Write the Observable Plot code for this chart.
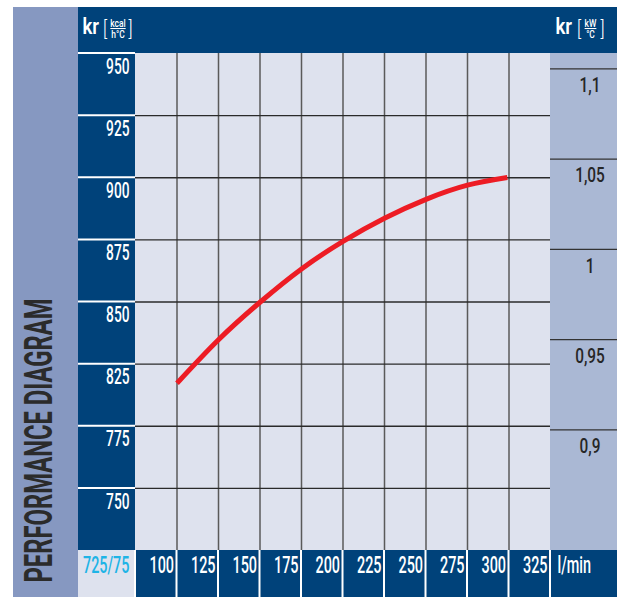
<!DOCTYPE html>
<html>
<head>
<meta charset="utf-8">
<script src="https://cdn.jsdelivr.net/npm/d3@7"></script>
<script src="https://cdn.jsdelivr.net/npm/@observablehq/plot@0.6"></script>
<style>
  html, body { margin: 0; padding: 0; background: #ffffff; }
  #chart { position: absolute; left: 13px; top: 7px; }
  text[aria-label="unit-numerator"] { text-decoration: underline; }
</style>
</head>
<body>
<div id="chart"></div>
<script>
// ---- data ----
const flow = [100, 125, 150, 175, 200, 225, 250, 275, 299];          // l/min
const kcal = [817.3, 834.8, 849.9, 863.3, 874.4, 883.7, 891.3, 897.0, 900.1];

const xTicks = [75, 100, 125, 150, 175, 200, 225, 250, 275, 300, 325];
const xLabels = ["100", "125", "150", "175", "200", "225", "250", "275", "300", "325"];
const xGrid = [100, 125, 150, 175, 200, 225, 250, 275, 300];

const yTicks = [950, 925, 900, 875, 850, 825, 800, 775];
const yLabels = ["950", "925", "900", "875", "850", "825", "775", "750"];
const yGrid = [925, 900, 875, 850, 825, 800, 775];

const kwTicks = [1.1, 1.05, 1, 0.95, 0.9];
const kwLabels = ["1,1", "1,05", "1", "0,95", "0,9"];
const kwRef = [0.9, 1.1];          // kW/°C
const kcalRef = [798.3, 943.6];    // matching positions on the kcal axis

const cornerLabel = "725/75";
const unitX = "l/min";
const title = "PERFORMANCE DIAGRAM";

// ---- styling ----
const C = {
  band: "#8698c1", dark: "#00427a", plot: "#dee2ee", right: "#aab8d4",
  cyan: "#1eb4e6", red: "#ed1c24", text: "#262626"
};
const W = 604, H = 590;
const M = {top: 46, right: 67, bottom: 47, left: 122};
const bandW = 65;

const kw2kcal = d3.scaleLinear().domain(kwRef).range(kcalRef);
const curve = flow.map((f, i) => ({flow: f, kcal: kcal[i]}));
const tag = name => () => name;

function panels(index, scales, values, dims) {
  const {width, height, marginTop, marginRight, marginBottom, marginLeft} = dims;
  const g = d3.create("svg:g");
  const rect = (x, y, w, h, fill) => g.append("rect").attr("x", x).attr("y", y).attr("width", w).attr("height", h).attr("fill", fill);
  const innerH = height - marginTop - marginBottom;
  rect(0, 0, bandW, height, C.band);
  rect(bandW, 0, width - bandW, height, C.dark);
  rect(marginLeft, marginTop, width - marginLeft - marginRight, innerH, C.plot);
  rect(width - marginRight, marginTop, marginRight, innerH, C.right);
  rect(bandW, height - marginBottom, marginLeft - bandW, marginBottom, C.plot);
  for (const v of yTicks) {
    const y = scales.y(v);
    g.append("line").attr("x1", bandW).attr("x2", marginLeft).attr("y1", y).attr("y2", y)
      .attr("stroke", "#ffffff").attr("stroke-width", 2);
  }
  for (const v of xTicks) {
    const x = scales.x(v);
    g.append("line").attr("x1", x).attr("x2", x).attr("y1", height - marginBottom).attr("y2", height)
      .attr("stroke", "#ffffff").attr("stroke-width", 2);
  }
  for (const k of kwTicks) {
    const y = scales.y(kw2kcal(k));
    g.append("line").attr("x1", width - marginRight).attr("x2", width).attr("y1", y).attr("y2", y)
      .attr("stroke", "#333333").attr("stroke-width", 1.3);
  }
  return g.node();
}

const chart = Plot.plot({
  width: W, height: H,
  marginTop: M.top, marginRight: M.right, marginBottom: M.bottom, marginLeft: M.left,
  x: {domain: [75, 325], axis: null},
  y: {domain: [750, 950], axis: null},
  style: {fontFamily: "Roboto, 'Liberation Sans', sans-serif", background: "transparent", overflow: "visible"},
  marks: [
    panels,
    Plot.ruleX(xGrid, {x: d => d, stroke: "#5a5a5a", strokeWidth: 1.5}),
    Plot.ruleY(yGrid, {y: d => d, stroke: "#2a2a2a", strokeWidth: 1.3}),
    Plot.line(curve, {x: "flow", y: "kcal", stroke: C.red, strokeWidth: 5, curve: "natural", strokeLinecap: "butt"}),
    // left axis labels
    Plot.text(yTicks, {y: d => d, text: (d, i) => yLabels[i], frameAnchor: "left", dx: -6, dy: 13,
      textAnchor: "end", lineAnchor: "middle", fill: "#ffffff", fontSize: 22.5, fontWeight: 500, ariaLabel: tag("left-axis")}),
    // bottom axis labels
    Plot.text(xTicks.slice(1), {x: d => d, text: (d, i) => xLabels[i], frameAnchor: "bottom", dx: -3, dy: 14.5,
      textAnchor: "end", lineAnchor: "middle", fill: "#ffffff", fontSize: 24, fontWeight: 500, ariaLabel: tag("bottom-axis")}),
    Plot.text([cornerLabel], {frameAnchor: "bottom-left", dx: -6, dy: 14.5, textAnchor: "end", lineAnchor: "middle",
      fill: C.cyan, fontSize: 24, fontWeight: 500, ariaLabel: tag("bottom-axis")}),
    Plot.text([unitX], {frameAnchor: "bottom-right", dx: 7, dy: 14.5, textAnchor: "start", lineAnchor: "middle",
      fill: "#ffffff", fontSize: 24, fontWeight: 500, ariaLabel: tag("bottom-axis")}),
    // right axis labels
    Plot.text(kwTicks, {y: d => kw2kcal(d), text: (d, i) => kwLabels[i], frameAnchor: "right", dx: 39.5, dy: 16,
      textAnchor: "middle", lineAnchor: "middle", fill: C.text, fontSize: 20.5, fontWeight: 500, ariaLabel: tag("right-axis")}),
    // vertical title
    Plot.text([title], {frameAnchor: "left", dx: -96, dy: 138.5, rotate: -90, textAnchor: "middle", lineAnchor: "middle",
      fill: "#2b2b2b", fontSize: 39, fontWeight: 700, ariaLabel: tag("title")}),
    // header units (left)
    Plot.text(["kr"], {frameAnchor: "top-left", dx: -53, dy: -20, textAnchor: "start", lineAnchor: "bottom",
      fill: "#ffffff", fontSize: 22, fontWeight: 600, ariaLabel: tag("header")}),
    Plot.text(["["], {frameAnchor: "top-left", dx: -32.5, dy: -18, textAnchor: "start", lineAnchor: "bottom",
      fill: "#ffffff", fontSize: 20, fontWeight: 300, ariaLabel: tag("header")}),
    Plot.text(["kcal"], {frameAnchor: "top-left", dx: -17.5, dy: -26.5, textAnchor: "middle", lineAnchor: "bottom",
      fill: "#ffffff", fontSize: 10.5, fontWeight: 500, ariaLabel: tag("unit-numerator")}),
    Plot.text(["h°C"], {frameAnchor: "top-left", dx: -17.5, dy: -15.5, textAnchor: "middle", lineAnchor: "bottom",
      fill: "#ffffff", fontSize: 10.5, fontWeight: 500, ariaLabel: tag("unit-denominator")}),
    Plot.text(["]"], {frameAnchor: "top-left", dx: -7, dy: -18, textAnchor: "start", lineAnchor: "bottom",
      fill: "#ffffff", fontSize: 20, fontWeight: 300, ariaLabel: tag("header")}),
    // header units (right)
    Plot.text(["kr"], {frameAnchor: "top-right", dx: 5, dy: -20, textAnchor: "start", lineAnchor: "bottom",
      fill: "#ffffff", fontSize: 22, fontWeight: 600, ariaLabel: tag("header")}),
    Plot.text(["["], {frameAnchor: "top-right", dx: 26.5, dy: -18, textAnchor: "start", lineAnchor: "bottom",
      fill: "#ffffff", fontSize: 20, fontWeight: 300, ariaLabel: tag("header")}),
    Plot.text(["kW"], {frameAnchor: "top-right", dx: 40, dy: -26.5, textAnchor: "middle", lineAnchor: "bottom",
      fill: "#ffffff", fontSize: 10.5, fontWeight: 500, ariaLabel: tag("unit-numerator")}),
    Plot.text(["°C"], {frameAnchor: "top-right", dx: 40, dy: -15.5, textAnchor: "middle", lineAnchor: "bottom",
      fill: "#ffffff", fontSize: 10.5, fontWeight: 500, ariaLabel: tag("unit-denominator")}),
    Plot.text(["]"], {frameAnchor: "top-right", dx: 50, dy: -18, textAnchor: "start", lineAnchor: "bottom",
      fill: "#ffffff", fontSize: 20, fontWeight: 300, ariaLabel: tag("header")})
  ]
});

document.getElementById("chart").append(chart);

// condensed typeface look: compress glyphs horizontally
const condense = {"left-axis": 0.61, "bottom-axis": 0.6, "right-axis": 0.75,
  "header": 0.85, "unit-numerator": 0.8, "unit-denominator": 0.8};
const squeeze = (t, len) => {
  t.setAttribute("textLength", len.toFixed(2));
  t.setAttribute("lengthAdjust", "spacingAndGlyphs");
};
for (const [label, k] of Object.entries(condense)) {
  chart.querySelectorAll(`text[aria-label="${label}"]`).forEach(t => squeeze(t, t.getComputedTextLength() * k));
}
// the vertical title fills the lower part of the left band
const titleSpan = 284;
chart.querySelectorAll('text[aria-label="title"]').forEach(t => squeeze(t, titleSpan));
</script>
</body>
</html>
